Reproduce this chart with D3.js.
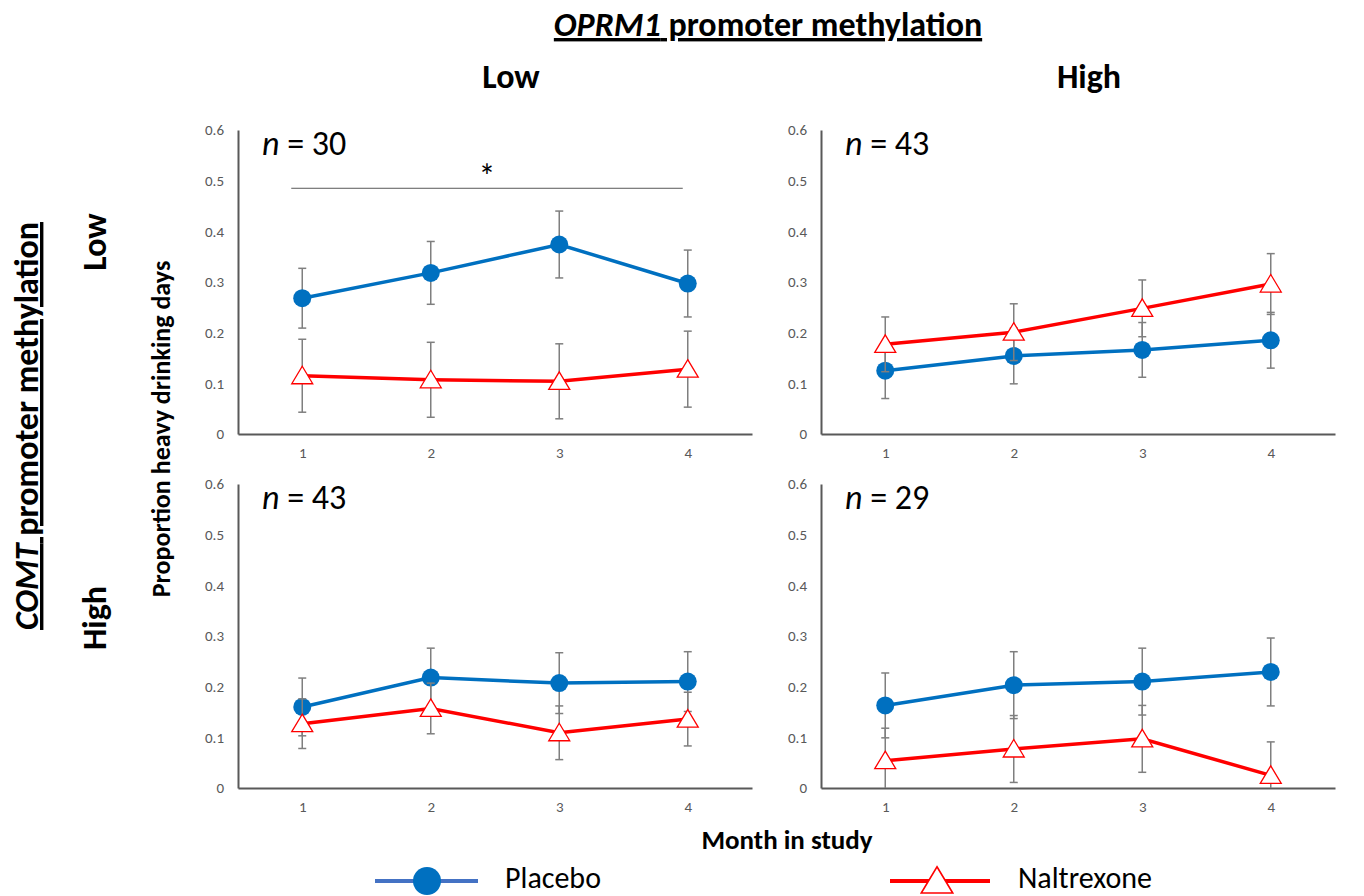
<!DOCTYPE html>
<html lang="en">
  <head>
    <meta charset="UTF-8" />
    <script src="https://cdn.jsdelivr.net/npm/d3@7"></script>
    <style>
      body { margin: 0; background: #fff; }
      text { font-family: Carlito, Lato, "Open Sans", sans-serif; }
    </style>
  </head>
  <body>
    <div id="fig"></div>
    <script>
      const width = 1364;
      const height = 896;

      // data
      const months = [1, 2, 3, 4];
      const yTicks = [0, 0.1, 0.2, 0.3, 0.4, 0.5, 0.6];
      const colLabels = ["Low", "High"];
      const rowLabels = ["Low", "High"];
      // panel order: TL, TR, BL, BR
      const panelN = [30, 43, 43, 29];
      const placeboMean = [
        [0.268, 0.318, 0.374, 0.297],
        [0.125, 0.154, 0.166, 0.185],
        [0.160, 0.218, 0.207, 0.210],
        [0.163, 0.203, 0.210, 0.229],
      ];
      const placeboErr = [
        [0.059, 0.062, 0.066, 0.066],
        [0.055, 0.055, 0.054, 0.055],
        [0.057, 0.058, 0.060, 0.059],
        [0.064, 0.066, 0.066, 0.067],
      ];
      const naltrexoneMean = [
        [0.115, 0.107, 0.104, 0.128],
        [0.177, 0.201, 0.248, 0.296],
        [0.127, 0.157, 0.109, 0.136],
        [0.054, 0.077, 0.097, 0.025],
      ];
      const naltrexoneErr = [
        [0.072, 0.074, 0.074, 0.075],
        [0.054, 0.056, 0.056, 0.060],
        [0.049, 0.050, 0.053, 0.053],
        [0.064, 0.066, 0.066, 0.066],
      ];
      // significance bracket in the top-left panel
      const sigPanel = 0;
      const sigLevel = 0.485;
      const sigFrom = 1;
      const sigTo = 4;

      const blue = "#0070C0";
      const red = "#FF0000";
      const axisGrey = "#595959";
      const barGrey = "#7F7F7F";

      const svg = d3
        .select("#fig")
        .append("svg")
        .attr("width", width)
        .attr("height", height);

      const panelW = 514;
      const panelH = 304;
      const colX = [238, 821];
      const rowY = [130, 484];
      const colLabelX = [511, 1089];
      const rowLabelY = [242, 618];

      const x = d3.scalePoint().domain(months).range([0, panelW]).padding(0.5);
      const y = d3.scaleLinear().domain([0, 0.6]).range([panelH, 0]);

      const line = d3
        .line()
        .x((d, i) => x(months[i]))
        .y((d) => y(d));

      const triangle = (s) =>
        `M0,${-s * 0.95}L${s * 1.05},${s * 0.8}L${-s * 1.05},${s * 0.8}Z`;

      const series = [
        { name: "Placebo", mean: placeboMean, err: placeboErr, color: blue, marker: "circle" },
        { name: "Naltrexone", mean: naltrexoneMean, err: naltrexoneErr, color: red, marker: "triangle" },
      ];

      panelN.forEach((n, p) => {
        const row = Math.floor(p / 2);
        const col = p % 2;
        const g = svg
          .append("g")
          .attr("transform", `translate(${colX[col]},${rowY[row]})`);

        g.append("g")
          .attr("transform", `translate(0,${panelH})`)
          .call(d3.axisBottom(x).tickSize(0).tickPadding(13))
          .call((a) => a.select(".domain").attr("stroke", axisGrey).attr("stroke-width", 2))
          .call((a) => a.selectAll("text").attr("fill", axisGrey).style("font-size", "15px"));

        g.append("g")
          .call(
            d3
              .axisLeft(y)
              .tickValues(yTicks)
              .tickFormat(d3.format("~g"))
              .tickSize(0)
              .tickPadding(14)
          )
          .call((a) => a.select(".domain").attr("stroke", axisGrey).attr("stroke-width", 2))
          .call((a) => a.selectAll("text").attr("fill", axisGrey).style("font-size", "15px"));

        const nLabel = g
          .append("text")
          .attr("x", 24)
          .attr("y", 25)
          .style("font-size", "34px")
          .attr("fill", "#000");
        nLabel.append("tspan").style("font-style", "italic").text("n");
        nLabel.append("tspan").text(` = ${n}`);

        series.forEach((s) => {
          const m = s.mean[p];
          const e = s.err[p];
          g.append("path")
            .datum(m)
            .attr("d", line)
            .attr("fill", "none")
            .attr("stroke", s.color)
            .attr("stroke-width", 3.5);

          const bars = g.append("g").attr("stroke", barGrey).attr("stroke-width", 1.5);
          m.forEach((v, i) => {
            const cx = x(months[i]);
            const top = y(v + e[i]);
            const bot = y(Math.max(0, v - e[i]));
            bars.append("line").attr("x1", cx).attr("x2", cx).attr("y1", top).attr("y2", bot);
            bars.append("line").attr("x1", cx - 4).attr("x2", cx + 4).attr("y1", top).attr("y2", top);
            if (v - e[i] > 0)
              bars.append("line").attr("x1", cx - 4).attr("x2", cx + 4).attr("y1", bot).attr("y2", bot);
          });

          if (s.marker === "circle") {
            g.selectAll(null)
              .data(m)
              .join("circle")
              .attr("cx", (d, i) => x(months[i]))
              .attr("cy", (d) => y(d))
              .attr("r", 9)
              .attr("fill", s.color);
          } else {
            g.selectAll(null)
              .data(m)
              .join("path")
              .attr("transform", (d, i) => `translate(${x(months[i])},${y(d)})`)
              .attr("d", triangle(10))
              .attr("fill", "#fff")
              .attr("stroke", s.color)
              .attr("stroke-width", 1.3);
          }
        });

        if (p === sigPanel) {
          g.append("line")
            .attr("x1", x(sigFrom) - 11)
            .attr("x2", x(sigTo) - 5)
            .attr("y1", y(sigLevel))
            .attr("y2", y(sigLevel))
            .attr("stroke", axisGrey)
            .attr("stroke-width", 1);
          g.append("text")
            .attr("x", (x(sigFrom) - 11 + x(sigTo) - 5) / 2)
            .attr("y", y(sigLevel))
            .attr("text-anchor", "middle")
            .style("font-size", "34px")
            .text("*");
        }
      });

      // column header
      const title = svg
        .append("text")
        .attr("x", 768)
        .attr("y", 36)
        .attr("text-anchor", "middle")
        .style("font-size", "34px")
        .style("font-weight", "bold")
        .style("text-decoration", "underline");
      title.append("tspan").style("font-style", "italic").text("OPRM1");
      title.append("tspan").text(" promoter methylation");

      svg.selectAll(".col-label")
        .data(colLabels)
        .join("text")
        .attr("x", (d, i) => colLabelX[i])
        .attr("y", 88)
        .attr("text-anchor", "middle")
        .style("font-size", "34px")
        .style("font-weight", "bold")
        .text((d) => d);

      // row header
      const rowTitle = svg
        .append("text")
        .attr("transform", "translate(38,426) rotate(-90)")
        .attr("text-anchor", "middle")
        .style("font-size", "34px")
        .style("font-weight", "bold")
        .style("text-decoration", "underline");
      rowTitle.append("tspan").style("font-style", "italic").text("COMT");
      rowTitle.append("tspan").text(" promoter methylation");

      svg.selectAll(".row-label")
        .data(rowLabels)
        .join("text")
        .attr("transform", (d, i) => `translate(106,${rowLabelY[i]}) rotate(-90)`)
        .attr("text-anchor", "middle")
        .style("font-size", "34px")
        .style("font-weight", "bold")
        .text((d) => d);

      svg.append("text")
        .attr("transform", "translate(170,429) rotate(-90)")
        .attr("text-anchor", "middle")
        .style("font-size", "26px")
        .style("font-weight", "bold")
        .text("Proportion heavy drinking days");

      svg.append("text")
        .attr("x", 787)
        .attr("y", 849)
        .attr("text-anchor", "middle")
        .style("font-size", "27px")
        .style("font-weight", "bold")
        .text("Month in study");

      // legend
      const legend = svg.append("g");
      const pl = legend.append("g").attr("transform", "translate(375,881)");
      pl.append("line").attr("x1", 0).attr("x2", 103).attr("stroke", "#4472C4").attr("stroke-width", 4);
      pl.append("circle").attr("cx", 52).attr("r", 14).attr("fill", blue);
      pl.append("text").attr("x", 130).attr("y", 7).style("font-size", "30px").text("Placebo");

      const nl = legend.append("g").attr("transform", "translate(890,881)");
      nl.append("line").attr("x1", 0).attr("x2", 100).attr("stroke", red).attr("stroke-width", 4);
      nl.append("path")
        .attr("transform", "translate(47,0)")
        .attr("d", triangle(15))
        .attr("fill", "#fff")
        .attr("stroke", red)
        .attr("stroke-width", 1.6);
      nl.append("text").attr("x", 128).attr("y", 7).style("font-size", "30px").text("Naltrexone");
    </script>
  </body>
</html>
